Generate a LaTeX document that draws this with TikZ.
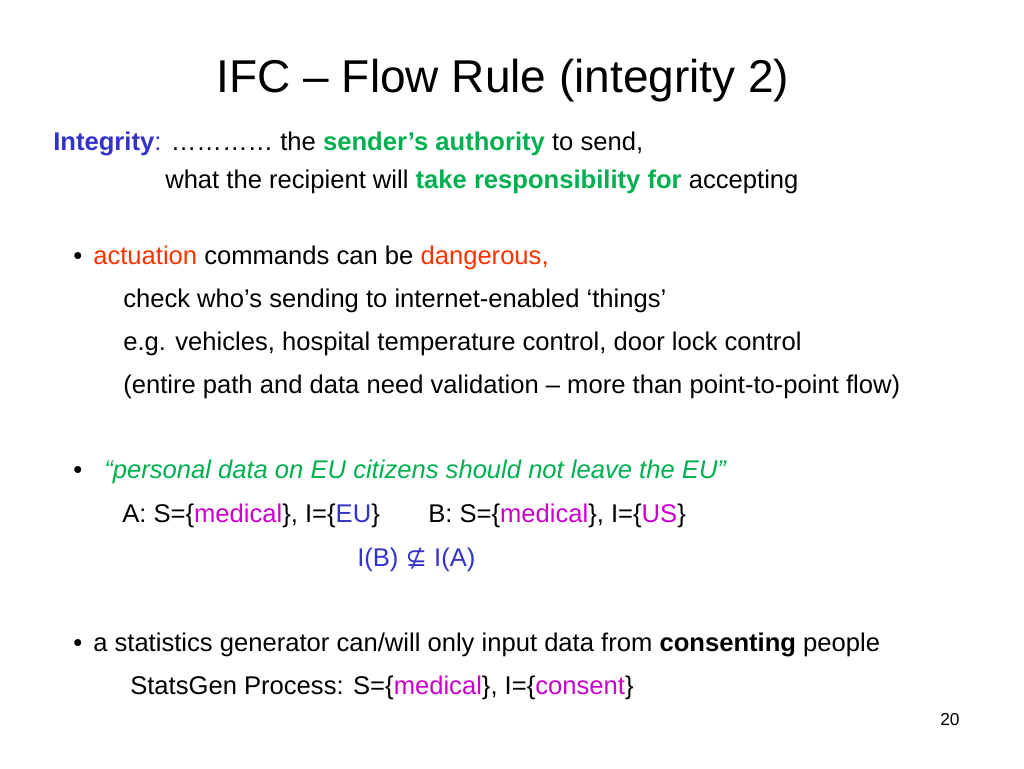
\documentclass[tikz,border=0pt]{standalone}
\usepackage{fontspec}
\setmainfont{Liberation Sans}
\newfontfamily\symfont{DejaVu Sans}
\definecolor{iblue}{HTML}{3333CC}
\definecolor{igreen}{HTML}{00B050}
\definecolor{ired}{HTML}{FF3300}
\definecolor{imag}{HTML}{CC00CC}
\begin{document}
\begin{tikzpicture}[x=0.75pt,y=-0.75pt,
  txt/.style={anchor=base west,inner sep=0pt,font=\fontsize{19.2}{22}\selectfont}]
\useasboundingbox (0,0) rectangle (1024,768);
\node[anchor=base,inner sep=0pt,font=\fontsize{34.5}{40}\selectfont] (title) at (503,92) {IFC – Flow Rule (integrity 2)};
\node[txt] (l1) at (53,150) {\textcolor{iblue}{\textbf{Integrity}:} ………… the \textcolor{igreen}{\textbf{sender’s authority}} to send,};
\node[txt] (l2) at (165,188) {what the recipient will \textcolor{igreen}{\textbf{take responsibility for}} accepting};
\node[txt] (b1) at (73,264) {•};
\node[txt] (t1) at (93,264) {\textcolor{ired}{actuation} commands can be \textcolor{ired}{dangerous,}};
\node[txt] (l3) at (123,307) {check who’s sending to internet-enabled \char96 things’};
\node[txt] (l4) at (123,350) {e.g. vehicles, hospital temperature control, door lock control};
\node[txt] (l5) at (123,393) {(entire path and data need validation – more than point-to-point flow)};
\node[txt] (b2) at (73,478) {•};
\node[txt] (q) at (104,478) {\textcolor{igreen}{\itshape “personal data on EU citizens should not leave the EU”}};
\node[txt] (a) at (122,522) {A: S=\{\textcolor{imag}{medical}\}, I=\{\textcolor{iblue}{EU}\}};
\node[txt] (b) at (428,522) {B: S=\{\textcolor{imag}{medical}\}, I=\{\textcolor{imag}{US}\}};
\node[txt,text=iblue] (ib) at (357,566) {I(B) {\symfont ⊈} I(A)};
\node[txt] (b3) at (73,651) {•};
\node[txt] (t3) at (93,651) {a statistics generator can/will only input data from \textbf{consenting} people};
\node[txt] (l6) at (130,694) {StatsGen Process: S=\{\textcolor{imag}{medical}\}, I=\{\textcolor{imag}{consent}\}};
\node[anchor=base west,inner sep=0pt,font=\fontsize{13}{15}\selectfont] (pg) at (940,725) {20};
\end{tikzpicture}
\end{document}
